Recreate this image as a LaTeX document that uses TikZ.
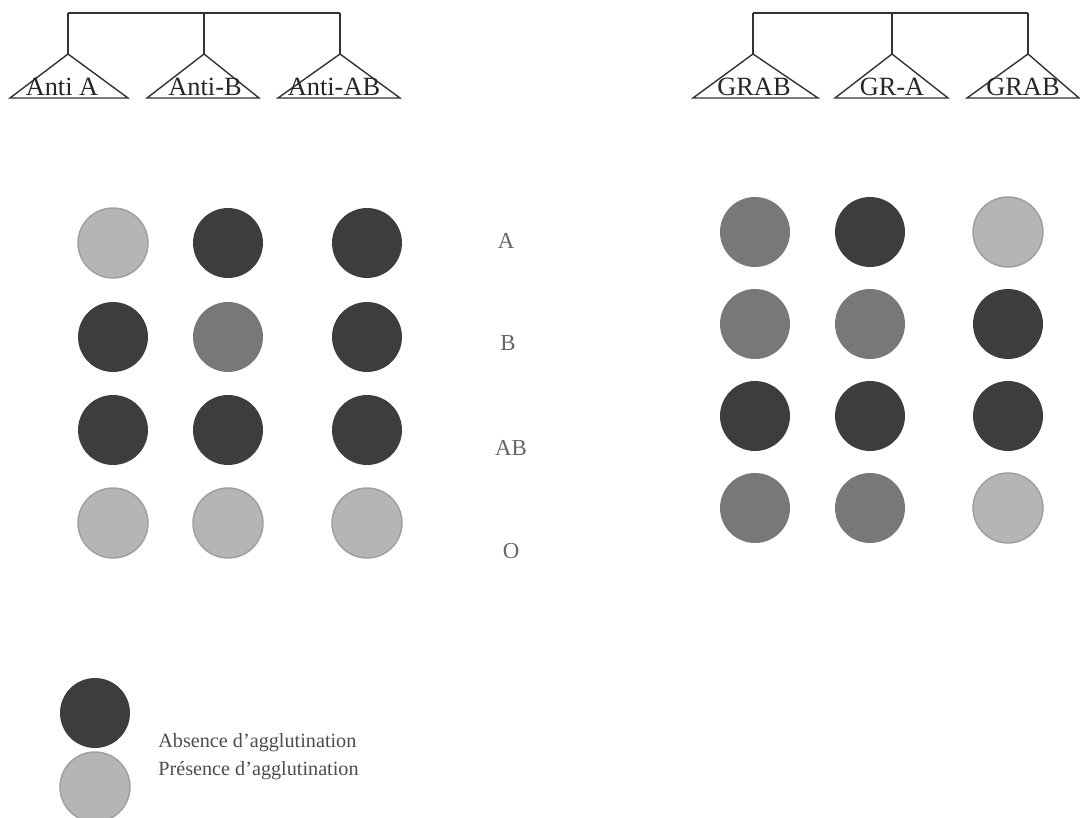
\documentclass[tikz,border=0pt]{standalone}
\usepackage{fontspec}
\setmainfont{Liberation Serif}
\usetikzlibrary{positioning}
\tikzstyle{treeLine} = [draw=black!80, line width=0.8pt]
\tikzstyle{tubeLabel} = [text=black!85, inner sep=0pt, font=\fontsize{15}{16}\selectfont]
\tikzstyle{dot} = [shape=circle, minimum size=1.4cm, inner sep=0pt]
\tikzstyle{darkDot} = [dot, fill=black!76]
\tikzstyle{midDot} = [dot, fill=black!53]
\tikzstyle{lightDot} = [dot, fill=black!29, draw=black!38, thick]
\tikzstyle{groupLabel} = [text=black!60, font=\fontsize{13}{14}\selectfont]
\tikzstyle{legendText} = [text=black!70, anchor=west, inner sep=0pt, font=\fontsize{11.5}{13}\selectfont]

\begin{document}
\begin{tikzpicture}[x=0.02cm, y=-0.02cm]
  \useasboundingbox (0,0) rectangle (1080,818);

  % left tree
  \coordinate (barL1) at (68,13);
  \coordinate (barL2) at (204,13);
  \coordinate (barL3) at (340,13);
  \coordinate (topL1) at (68,54);
  \coordinate (topL2) at (204,54);
  \coordinate (topL3) at (340,54);
  \draw [treeLine] (barL1) -- (barL3);
  \draw [treeLine] (barL1) -- (topL1);
  \draw [treeLine] (barL2) -- (topL2);
  \draw [treeLine] (barL3) -- (topL3);
  \draw [treeLine] (10,98) -- (topL1) -- (128,98) -- cycle;
  \draw [treeLine] (147,98) -- (topL2) -- (259,98) -- cycle;
  \draw [treeLine] (278,98) -- (topL3) -- (400,98) -- cycle;
  \node (antiA) at (62,87) [tubeLabel] {Anti A};
  \node (antiB) at (205,87) [tubeLabel] {Anti-B};
  \node (antiAB) at (334,87) [tubeLabel] {Anti-AB};

  % right tree
  \coordinate (barR1) at (753,13);
  \coordinate (barR2) at (892,13);
  \coordinate (barR3) at (1028,13);
  \coordinate (topR1) at (753,54);
  \coordinate (topR2) at (892,54);
  \coordinate (topR3) at (1028,54);
  \draw [treeLine] (barR1) -- (barR3);
  \draw [treeLine] (barR1) -- (topR1);
  \draw [treeLine] (barR2) -- (topR2);
  \draw [treeLine] (barR3) -- (topR3);
  \draw [treeLine] (693,98) -- (topR1) -- (818,98) -- cycle;
  \draw [treeLine] (835,98) -- (topR2) -- (948,98) -- cycle;
  \draw [treeLine] (967,98) -- (topR3) -- (1079,98) -- cycle;
  \node (grAB) at (754,87) [tubeLabel] {GRAB};
  \node (grA) at (892,87) [tubeLabel] {GR-A};
  \node (grB) at (1023,87) [tubeLabel] {GRAB};

  % left plate
  \node (l11) at (113,243) [lightDot] {};
  \node (l12) at (228,243) [darkDot] {};
  \node (l13) at (367,243) [darkDot] {};
  \node (l21) at (113,337) [darkDot] {};
  \node (l22) at (228,337) [midDot] {};
  \node (l23) at (367,337) [darkDot] {};
  \node (l31) at (113,430) [darkDot] {};
  \node (l32) at (228,430) [darkDot] {};
  \node (l33) at (367,430) [darkDot] {};
  \node (l41) at (113,523) [lightDot] {};
  \node (l42) at (228,523) [lightDot] {};
  \node (l43) at (367,523) [lightDot] {};

  % groups
  \node (grpA) at (506,241) [groupLabel] {A};
  \node (grpB) at (508,343) [groupLabel] {B};
  \node (grpAB) at (511,448) [groupLabel] {AB};
  \node (grpO) at (511,551) [groupLabel] {O};

  % right plate
  \node (r11) at (755,232) [midDot] {};
  \node (r12) at (870,232) [darkDot] {};
  \node (r13) at (1008,232) [lightDot] {};
  \node (r21) at (755,324) [midDot] {};
  \node (r22) at (870,324) [midDot] {};
  \node (r23) at (1008,324) [darkDot] {};
  \node (r31) at (755,416) [darkDot] {};
  \node (r32) at (870,416) [darkDot] {};
  \node (r33) at (1008,416) [darkDot] {};
  \node (r41) at (755,508) [midDot] {};
  \node (r42) at (870,508) [midDot] {};
  \node (r43) at (1008,508) [lightDot] {};

  % legend
  \node (keyDark) at (95,713) [darkDot] {};
  \node (keyLight) at (95,787) [lightDot] {};
  \node (keyAbs) at (158,743) [legendText] {Absence d'agglutination};
  \node (keyPres) at (158,771) [legendText] {Présence d'agglutination};
\end{tikzpicture}
\end{document}
